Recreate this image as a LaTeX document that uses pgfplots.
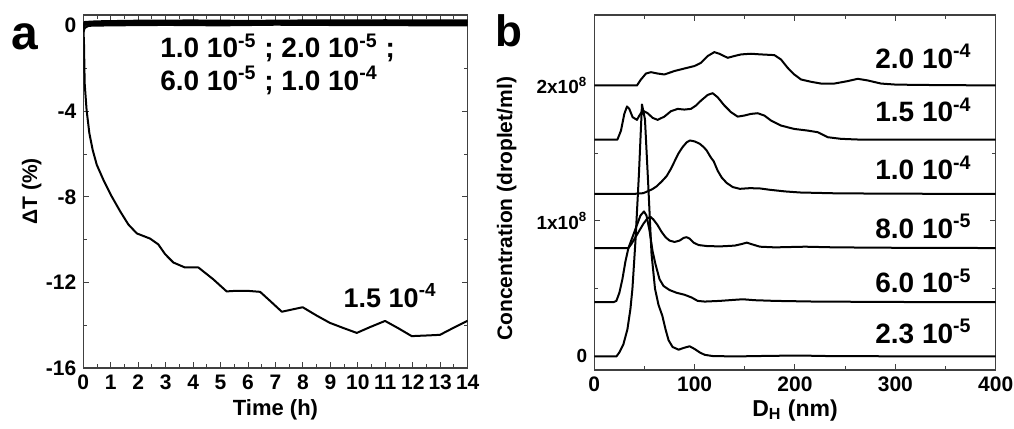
\documentclass[border=0pt]{standalone}
\usepackage{fontspec}
\setmainfont{Liberation Sans}
\usepackage{pgfplots}
\pgfplotsset{compat=1.18}
\begin{document}
\begin{tikzpicture}
\useasboundingbox (0,0) rectangle (507pt,214.5pt);
\pgfplotsset{
  common/.style={
    scale only axis, anchor=south west,
    axis line style={black!75, line width=0.6pt},
    every tick/.style={black!75, line width=0.5pt},
    tick align=inside,
    major tick length=3pt, minor tick length=1.8pt,
    ticklabel style={font=\bfseries\fontsize{10.5}{12}\selectfont},
    label style={font=\bfseries\fontsize{10.5}{12}\selectfont},
  },
  curve/.style={black, solid, line width=1pt, mark=none, line join=round},
}
% ---------------- panel a ----------------
\begin{axis}[common, at={(41.65pt,30.5pt)}, width=192.2pt, height=176.5pt,
  xmin=0, xmax=14, ymin=-16, ymax=0.5,
  xtick={0,1,2,3,4,5,6,7,8,9,10,11,12,13,14},
  xticklabels={0,1,2,3,4,5,6,7,8,9,10,11,12,13,14},
  minor x tick num=1,
  ytick={-16,-12,-8,-4,0}, yticklabels={-16,-12,-8,-4,0},
  minor ytick={-14,-10,-6,-2},
  xlabel={Time (h)}, ylabel={ΔT (\%)},
  xlabel style={at={(axis description cs:0.5,-0.119)}, anchor=center, font=\bfseries\fontsize{11}{12}\selectfont},
  ylabel style={at={(axis description cs:-0.134,0.5)}, anchor=center},
]
\addplot[curve, line width=1.1pt] coordinates {(0,-0.3) (0.05,-0.1) (0.2,0.0) (1,0.02) (3,0.04) (5,0.02) (7,0.05) (10,0.03) (14,0.02)};
\addplot[curve, line width=1.1pt] coordinates {(0,-0.1) (0.05,0.05) (0.3,0.08) (2,0.1) (4,0.12) (6,0.09) (8,0.11) (11,0.12) (14,0.1)};
\addplot[curve, line width=1.1pt] coordinates {(0,0) (0.05,0.12) (0.5,0.15) (2,0.17) (4,0.18) (6,0.16) (8,0.18) (11,0.19) (14,0.17)};
\addplot[curve, line width=1.1pt] coordinates {(0,0.05) (0.05,0.17) (0.5,0.2) (2,0.23) (4,0.24) (6,0.22) (8,0.24) (11,0.25) (14,0.24)};
\addplot[curve] coordinates {
(0,0) (0.01,-0.3) (0.025,-0.84) (0.05,-2.7) (0.12,-3.94) (0.22,-5.02) (0.34,-5.8)
(0.49,-6.5) (0.73,-7.2) (1.03,-7.97) (1.34,-8.67) (1.64,-9.29) (1.95,-9.71)
(2.19,-9.83) (2.43,-9.95) (2.73,-10.22) (2.98,-10.68) (3.28,-11.07) (3.7,-11.30)
(4.19,-11.30) (4.73,-11.85) (5.22,-12.42) (5.59,-12.39) (5.95,-12.39) (6.44,-12.44)
(6.8,-12.86) (7.23,-13.37) (7.59,-13.27) (7.99,-13.16) (8.5,-13.55) (8.98,-13.89)
(9.47,-14.13) (9.96,-14.36) (10.44,-14.09) (10.99,-13.80) (11.47,-14.14)
(11.96,-14.51) (12.51,-14.48) (12.99,-14.45) (13.47,-14.13) (14,-13.79)};
\node[anchor=base west, inner sep=0, font=\bfseries\fontsize{14}{16}\selectfont] at (axis cs:2.79,-1.49) {1.0 10\textsuperscript{-5} ; 2.0 10\textsuperscript{-5} ;};
\node[anchor=base west, inner sep=0, font=\bfseries\fontsize{14}{16}\selectfont] at (axis cs:2.79,-3.01) {6.0 10\textsuperscript{-5} ; 1.0 10\textsuperscript{-4}};
\node[anchor=base west, inner sep=0, font=\bfseries\fontsize{13.5}{15}\selectfont] at (axis cs:9.47,-13.16) {1.5 10\textsuperscript{-4}};
\end{axis}
% ---------------- panel b ----------------
\begin{axis}[common, at={(297.15pt,29.5pt)}, width=200.7pt, height=177.5pt,
  xmin=0, xmax=400, ymin=-0.1, ymax=2.52,
  xtick={0,100,200,300,400}, xticklabels={0,100,200,300,400},
  minor xtick={50,150,250,350},
  ytick={0,1,2}, yticklabels={0,1x10\textsuperscript{8},2x10\textsuperscript{8}},
  minor ytick={0.5,1.5},
  yticklabel style={font=\bfseries\fontsize{9.5}{11}\selectfont},
  xlabel={D\textsubscript{H} (nm)}, ylabel={Concentration (droplet/ml)},
  xlabel style={at={(axis description cs:0.5,-0.113)}, anchor=center, font=\bfseries\fontsize{11.5}{13}\selectfont},
  ylabel style={at={(axis description cs:-0.218,0.454)}, anchor=center},
]
% 2.3e-5
\addplot[curve] coordinates {
(0,0) (22,0) (25,0.03) (29,0.09) (33,0.2) (36,0.35) (38,0.5) (41,0.85) (44.5,1.35)
(47.5,1.86) (50.5,1.75) (53.8,1.26) (57,0.76) (60.5,0.5) (64,0.38) (67.8,0.3) (71,0.2)
(74,0.12) (78,0.07) (84,0.05) (90,0.065) (95,0.075) (100,0.055) (105,0.03) (110,0.012)
(118,0.003) (140,0) (180,0.005) (210,0.006) (240,0.002) (400,0)};
% 6.0e-5
\addplot[curve] coordinates {
(0,0.4) (19,0.4) (22,0.41) (25,0.47) (28,0.57) (31,0.7) (34,0.8) (37,0.86) (40,0.92)
(43,0.98) (46,1.04) (49.5,1.07) (52,1.04) (55,0.93) (58,0.78) (61,0.68) (65,0.57)
(69,0.52) (75,0.49) (82,0.47) (90,0.455) (97,0.435) (103,0.41) (110,0.405) (125,0.41)
(140,0.418) (148,0.422) (160,0.415) (180,0.41) (220,0.405) (300,0.402) (400,0.4)};
% 8.0e-5
\addplot[curve] coordinates {
(0,0.8) (34,0.8) (37,0.83) (41,0.88) (45,0.93) (49,0.98) (53,1.02) (56,1.03) (59,1.01)
(63,0.97) (67,0.92) (71,0.88) (75,0.855) (80,0.845) (85,0.855) (89,0.875) (92,0.88)
(95,0.87) (99,0.84) (104,0.822) (112,0.815) (125,0.812) (140,0.818) (147,0.83)
(152,0.84) (157,0.828) (165,0.81) (180,0.805) (210,0.81) (240,0.805) (300,0.802) (400,0.8)};
% 1.0e-4
\addplot[curve] coordinates {
(0,1.2) (40,1.2) (48.8,1.205) (52,1.215) (58,1.235) (62,1.255) (67,1.29) (72,1.33)
(76,1.38) (80,1.44) (84,1.5) (88,1.545) (92,1.58) (95.3,1.594) (100,1.587) (105,1.57)
(109,1.545) (112,1.52) (116,1.47) (119,1.44) (123,1.37) (127,1.32) (132,1.28)
(138,1.25) (145,1.237) (155,1.242) (165,1.24) (175,1.23) (190,1.218) (205,1.21)
(240,1.204) (300,1.201) (400,1.2)};
% 1.5e-4
\addplot[curve] coordinates {
(0,1.6) (23,1.6) (26.6,1.667) (29.9,1.79) (32.6,1.845) (34.9,1.827) (38.2,1.766)
(42.5,1.746) (44.9,1.778) (48.2,1.815) (53.2,1.795) (58.1,1.761) (63.1,1.746)
(69.8,1.77) (76.4,1.81) (83.1,1.827) (89.7,1.822) (96.3,1.827) (101.3,1.852)
(106.3,1.888) (113,1.93) (117.9,1.943) (122.9,1.913) (129.6,1.852) (136.2,1.803)
(142.9,1.77) (149.5,1.778) (156.1,1.79) (162.8,1.795) (169.4,1.778) (176.1,1.741)
(186,1.704) (199.3,1.679) (212.6,1.667) (222.6,1.655) (232.6,1.618) (245.8,1.606)
(265.8,1.6) (400,1.6)};
% 2.0e-4
\addplot[curve] coordinates {
(0,2.0) (42.5,2.0) (46.5,2.044) (51.5,2.088) (56.5,2.098) (63.1,2.088) (69.8,2.081)
(79.7,2.106) (89.7,2.125) (99.7,2.143) (106.3,2.167) (113,2.217) (119.6,2.246)
(124.6,2.234) (132.9,2.204) (139.5,2.217) (146.2,2.229) (156.1,2.234) (166.1,2.229)
(179.4,2.224) (186,2.192) (192.7,2.13) (199.3,2.081) (206,2.044) (216,2.027)
(225.9,2.014) (239.2,2.014) (252.5,2.032) (262.5,2.049) (272.4,2.037) (285.7,2.014)
(299,2.007) (320,2.004) (360,2.002) (400,2.0)};
\node[anchor=base west, inner sep=0, font=\bfseries\fontsize{14}{16}\selectfont] at (axis cs:279.7,2.128) {2.0 10\textsuperscript{-4}};
\node[anchor=base west, inner sep=0, font=\bfseries\fontsize{14}{16}\selectfont] at (axis cs:279.7,1.734) {1.5 10\textsuperscript{-4}};
\node[anchor=base west, inner sep=0, font=\bfseries\fontsize{14}{16}\selectfont] at (axis cs:279.7,1.304) {1.0 10\textsuperscript{-4}};
\node[anchor=base west, inner sep=0, font=\bfseries\fontsize{14}{16}\selectfont] at (axis cs:279.7,0.874) {8.0 10\textsuperscript{-5}};
\node[anchor=base west, inner sep=0, font=\bfseries\fontsize{14}{16}\selectfont] at (axis cs:279.7,0.472) {6.0 10\textsuperscript{-5}};
\node[anchor=base west, inner sep=0, font=\bfseries\fontsize{14}{16}\selectfont] at (axis cs:279.7,0.099) {2.3 10\textsuperscript{-5}};
\end{axis}
\node[anchor=base west, inner sep=0, font=\bfseries\fontsize{24}{26}\selectfont] at (5.7pt,189.5pt) {a};
\node[anchor=base west, inner sep=0, font=\bfseries\fontsize{22}{24}\selectfont] at (247.5pt,191.2pt) {b};
\end{tikzpicture}
\end{document}
